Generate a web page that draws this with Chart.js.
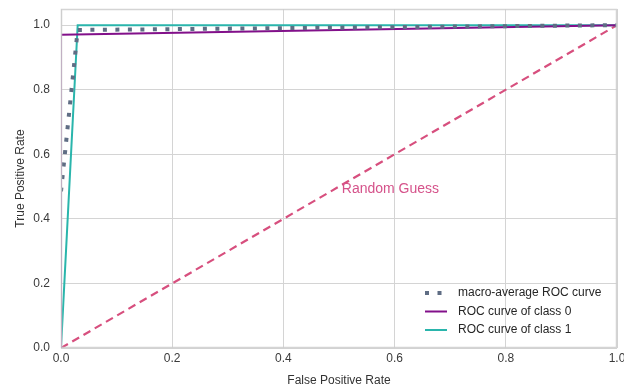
<!DOCTYPE html>
<html>
<head>
<meta charset="utf-8">
<script src="https://cdn.jsdelivr.net/npm/chart.js@4.4.1/dist/chart.umd.min.js"></script>
<style>
html,body{margin:0;padding:0;background:#fff;}
#wrap{width:624px;height:388px;}
</style>
</head>
<body>
<div id="wrap"><canvas id="c" width="624" height="388"></canvas></div>
<script>
// Data
const macroFpr = [0.0, 0.03, 1.0];
const macroTpr = [0.485, 0.985, 1.0];
const class0Fpr = [0.0, 0.0, 1.0];
const class0Tpr = [0.0, 0.97, 1.0];
const class1Fpr = [0.0, 0.03, 1.0];
const class1Tpr = [0.0, 1.0, 1.0];
const randomFpr = [0.0, 1.0];
const randomTpr = [0.0, 1.0];
const seriesLabels = ['macro-average ROC curve', 'ROC curve of class 0', 'ROC curve of class 1'];
const tickValues = [0.0, 0.2, 0.4, 0.6, 0.8, 1.0];
const annotationText = 'Random Guess';
const annotationPos = [0.505, 0.493];

const FONT = "'Liberation Sans', 'DejaVu Sans', Arial, sans-serif";
const C_MACRO = '#5f6d84';
const C_0 = '#82108a';
const C_1 = '#2ab5ac';
const C_RAND = '#d74f7e';

const pts = (xs, ys) => xs.map((x, i) => ({x: x, y: ys[i]}));

const framePlugin = {
  id: 'frame',
  afterDatasetsDraw(chart) {
    const {ctx, chartArea: a} = chart;
    ctx.save();
    ctx.strokeStyle = 'rgba(205,205,205,0.85)';
    ctx.lineWidth = 1.5;
    ctx.strokeRect(a.left + 0.5, a.top + 0.5, a.right - a.left - 1, a.bottom - a.top - 1);
    ctx.restore();
  },
  afterDraw(chart) {
    const {ctx, chartArea: a, scales} = chart;
    ctx.save();
    // annotation
    ctx.fillStyle = '#d5528a';
    ctx.font = '14px ' + FONT;
    ctx.textAlign = 'left';
    ctx.textBaseline = 'middle';
    ctx.fillText(annotationText, scales.x.getPixelForValue(annotationPos[0]), scales.y.getPixelForValue(annotationPos[1]));
    // legend
    const ds = chart.data.datasets;
    const x0 = a.right - 192, y0 = a.bottom - 55, gap = 18.5;
    ctx.font = '12px ' + FONT;
    for (let i = 0; i < seriesLabels.length; i++) {
      const y = y0 + i * gap;
      const d = ds[i];
      ctx.strokeStyle = d.borderColor;
      ctx.lineWidth = d.borderWidth;
      ctx.setLineDash(d.borderDash || []);
      ctx.beginPath();
      ctx.moveTo(x0, y);
      ctx.lineTo(x0 + 22, y);
      ctx.stroke();
      ctx.setLineDash([]);
      ctx.fillStyle = '#262626';
      ctx.fillText(seriesLabels[i], x0 + 33, y);
    }
    ctx.restore();
  }
};

new Chart(document.getElementById('c'), {
  type: 'scatter',
  data: {
    datasets: [
      {label: seriesLabels[0], data: pts(macroFpr, macroTpr), showLine: true, borderColor: C_MACRO, borderWidth: 4, borderDash: [4, 8.5], pointRadius: 0, tension: 0, borderCapStyle: 'butt'},
      {label: seriesLabels[1], data: pts(class0Fpr, class0Tpr), showLine: true, borderColor: C_0, borderWidth: 2, pointRadius: 0, tension: 0},
      {label: seriesLabels[2], data: pts(class1Fpr, class1Tpr), showLine: true, borderColor: C_1, borderWidth: 2, pointRadius: 0, tension: 0},
      {label: annotationText, data: pts(randomFpr, randomTpr), showLine: true, borderColor: C_RAND, borderWidth: 2.2, borderDash: [8, 5], pointRadius: 0, tension: 0}
    ]
  },
  options: {
    responsive: false,
    animation: false,
    layout: {padding: {left: 0, right: 7, top: 9, bottom: 0}},
    plugins: {legend: {display: false}, tooltip: {enabled: false}},
    scales: {
      x: {
        type: 'linear', min: 0, max: 1.0,
        afterFit(s) { s.height = 40; s.paddingLeft = 0; s.paddingRight = 0; },
        afterBuildTicks(s) { s.ticks = tickValues.map(v => ({value: v})); },
        grid: {color: '#d4d4d4', drawTicks: false},
        border: {display: false},
        ticks: {color: '#3a3a3a', font: {family: FONT, size: 12}, padding: 3, callback: v => v.toFixed(1), maxRotation: 0},
        title: {display: true, text: 'False Positive Rate', color: '#333', font: {family: FONT, size: 12}, padding: {top: 0, bottom: 0}}
      },
      y: {
        type: 'linear', min: 0, max: 1.05,
        afterFit(s) { s.width = 61; s.paddingTop = 0; s.paddingBottom = 0; },
        afterBuildTicks(s) { s.ticks = tickValues.map(v => ({value: v})); },
        grid: {color: '#d4d4d4', drawTicks: false},
        border: {display: false},
        ticks: {color: '#3a3a3a', font: {family: FONT, size: 12}, padding: 11, callback: v => v.toFixed(1)},
        title: {display: true, text: 'True Positive Rate', color: '#333', font: {family: FONT, size: 12}, padding: {top: 13, bottom: 4}}
      }
    }
  },
  plugins: [framePlugin]
});
</script>
</body>
</html>
